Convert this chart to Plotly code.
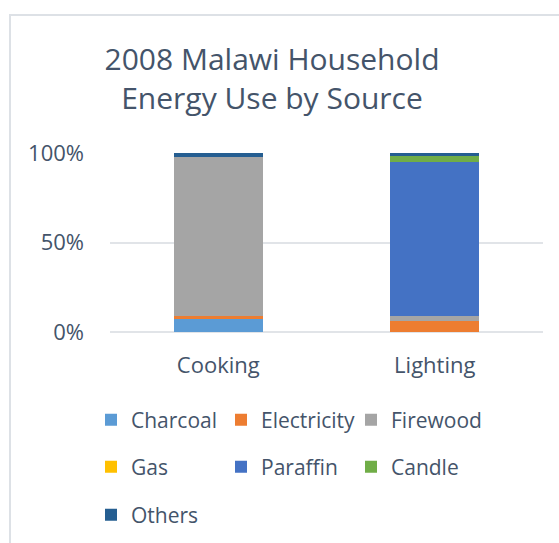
import plotly.graph_objects as go

categories = ["Cooking", "Lighting"]
series_names = ["Charcoal", "Electricity", "Firewood", "Gas", "Paraffin", "Candle", "Others"]
charcoal = [7.3, 0.0]
electricity = [1.9, 6.3]
firewood = [88.8, 2.8]
gas = [0.0, 0.0]
paraffin = [0.0, 86.0]
candle = [0.0, 3.2]
others = [2.0, 1.7]
colors = ["#5B9BD5", "#ED7D31", "#A5A5A5", "#FFC000", "#4472C4", "#70AD47", "#255E91"]
values = [charcoal, electricity, firewood, gas, paraffin, candle, others]
legend_ids = ["legend", "legend", "legend", "legend2", "legend2", "legend2", "legend3"]

TXT = "#44546A"
FONT = "Open Sans"

fig = go.Figure()
for name, vals, col, lg in zip(series_names, values, colors, legend_ids):
    fig.add_trace(go.Bar(name=name, x=categories, y=vals, marker_color=col,
                         marker_line_width=0, legend=lg))

W, H = 559, 543
leg_common = dict(orientation="h", xref="container", yref="container",
                  xanchor="left", yanchor="middle", entrywidth=85, entrywidthmode="pixels",
                  font=dict(family=FONT, size=21, color=TXT), bgcolor="rgba(0,0,0,0)",
                  itemwidth=30, traceorder="normal")
fig.update_layout(
    width=W, height=H,
    barmode="stack", bargap=0.59,
    plot_bgcolor="white", paper_bgcolor="white",
    margin=dict(l=110, r=16, t=153, b=211),
    title=dict(text="2008 Malawi Household<br>Energy Use by Source", x=272 / W, xanchor="center",
               xref="container", y=1 - 70 / H, yref="container", yanchor="middle",
               font=dict(family=FONT, size=30, color=TXT)),
    xaxis=dict(tickfont=dict(family=FONT, size=22, color=TXT), showgrid=False,
               showline=False, ticks="", ticklabelstandoff=18),
    yaxis=dict(range=[0, 100], tickvals=[0, 50, 100], ticktext=["0%", "50%", "100%"],
               tickfont=dict(family=FONT, size=22, color=TXT), gridcolor="#E1E4E8",
               gridwidth=2, zeroline=False, showline=False, ticks="",
               ticklabelstandoff=25),
    legend=dict(x=91 / W, y=1 - 420 / H, **leg_common),
    legend2=dict(x=91 / W, y=1 - 467 / H, **leg_common),
    legend3=dict(x=91 / W, y=1 - 515 / H, **leg_common),
    showlegend=True,
)
fig.add_shape(type="line", xref="paper", yref="paper", x0=0, x1=1, y0=0, y1=0,
              line=dict(color="#E1E4E8", width=2), layer="below")
fig.add_shape(type="rect", xref="paper", yref="paper",
              x0=(10 - 110) / (W - 126), x1=(W + 20 - 110) / (W - 126),
              y0=(332 - (H + 20)) / 179,
              y1=(332 - 15) / 179,
              line=dict(color="#DDE1E6", width=2), fillcolor="rgba(0,0,0,0)", layer="below")
fig.write_html("out.html")
